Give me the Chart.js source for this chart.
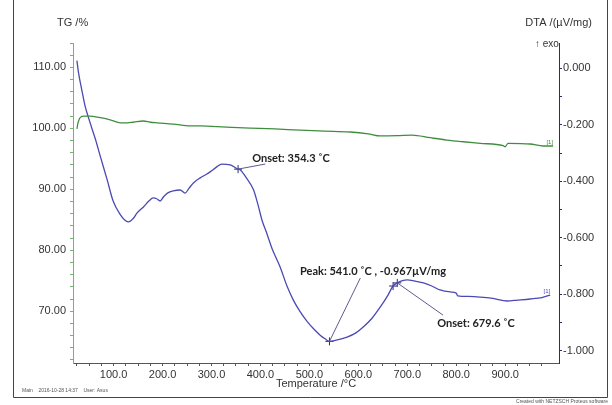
<!DOCTYPE html>
<html>
<head>
<meta charset="utf-8">
<script src="https://cdn.jsdelivr.net/npm/chart.js@4/dist/chart.umd.min.js"></script>
<style>
  html, body { margin: 0; padding: 0; background: #fff; }
  #wrap { width: 612px; height: 405px; position: relative; }
</style>
</head>
<body>
<div id="wrap"><canvas id="c" width="612" height="405"></canvas></div>
<script>
// DTA signal (µV/mg) against temperature (°C)
const dtaTemp = [25, 28.5, 35, 42, 48, 56, 63, 73, 87, 99, 114, 122, 130, 140, 148, 161, 172, 181, 188, 195,
  202, 210, 222, 236, 246, 254, 263, 277, 288, 298, 310, 321, 338, 354.3, 359, 372, 386, 396, 403, 412,
  424, 440, 454, 467, 481, 496, 510, 522, 532, 541, 555, 577, 595, 610, 628, 645, 660, 671, 679.6, 690,
  700, 716, 733, 750, 767, 788, 800, 803, 825, 849, 875, 904, 925, 951, 975, 992];
const dtaValue = [0.027, -0.018, -0.077, -0.136, -0.171, -0.215, -0.252, -0.313, -0.396, -0.470, -0.519, -0.536, -0.544, -0.532, -0.512, -0.491, -0.470, -0.459, -0.462, -0.470,
  -0.455, -0.442, -0.434, -0.431, -0.442, -0.425, -0.406, -0.388, -0.377, -0.366, -0.350, -0.339, -0.342, -0.357, -0.360, -0.390, -0.431, -0.490, -0.537, -0.580,
  -0.640, -0.703, -0.770, -0.820, -0.862, -0.898, -0.925, -0.945, -0.958, -0.967, -0.963, -0.952, -0.937, -0.916, -0.885, -0.845, -0.805, -0.771, -0.760, -0.752,
  -0.749, -0.754, -0.760, -0.771, -0.785, -0.792, -0.796, -0.806, -0.808, -0.810, -0.815, -0.824, -0.821, -0.817, -0.812, -0.803];

// TG mass (%) against temperature (°C)
const tgTemp = [25, 27, 32, 40, 52, 70, 93, 114, 128, 140, 161, 175, 189, 222, 257, 277, 330, 379, 430, 481,
  530, 583, 620, 645, 680, 710, 747, 781, 814, 849, 896, 900, 906, 951, 978, 998];
const tgValue = [99.9, 100.8, 101.8, 102.0, 102.0, 101.8, 101.4, 100.9, 100.9, 101.0, 101.2, 101.0, 100.9, 100.7, 100.4, 100.4, 100.2, 100.05, 99.9, 99.7,
  99.55, 99.4, 99.1, 98.75, 98.8, 98.9, 98.46, 98.08, 97.8, 97.54, 97.15, 96.98, 97.54, 97.43, 97.1, 97.1];

// Evaluated points on the DTA curve
const markTemp = [354.3, 541.0, 671.0, 679.6];
const markValue = [-0.357, -0.967, -0.771, -0.760];

// Labelled axis values
const tempLabels = [100, 200, 300, 400, 500, 600, 700, 800, 900];
const tgLabels = [70, 80, 90, 100, 110];
const dtaLabels = [0, -0.2, -0.4, -0.6, -0.8, -1.0];

// Result texts and the DTA points they refer to
const noteTexts = ['Onset: 354.3 \u02daC', 'Peak: 541.0 \u02daC , -0.967\u00b5V/mg', 'Onset: 679.6 \u02daC'];
const noteRefs = [0, 1, 3];

// Where each result text and its leader end sit, in axis units
const noteLayout = [
  { tx: 383, tv: -0.318, align: 'left', lt: 410, lv: -0.339 },
  { tx: 630, tv: -0.718, align: 'center', lt: 604, lv: -0.743 },
  { tx: 761, tv: -0.902, align: 'left', lt: 773, lv: -0.874 }
];

const GREEN = '#3f8e3f';
const GREEN_AXIS = '#77b277';
const BLUE = '#4a4ab4';
const NAVY = '#2b2b6e';
const TEXT = '#333333';
const SANS = '"Liberation Sans", Arial, sans-serif';

function stepTicks(from, to, step) {
  const out = [];
  const n = Math.round((to - from) / step);
  for (let i = 0; i <= n; i++) out.push({ value: Math.round((from + i * step) * 1000) / 1000 });
  return out;
}
function near(list, v) { return list.some(l => Math.abs(l - v) < 1e-6); }

const pairs = (xs, ys) => xs.map((x, i) => ({ x: x, y: ys[i] }));

const extras = {
  id: 'extras',
  afterDraw(chart) {
    const ctx = chart.ctx;
    const sx = chart.scales.x, sd = chart.scales.dta;
    ctx.save();

    // outer frame
    ctx.strokeStyle = '#444';
    ctx.lineWidth = 1;
    ctx.beginPath();
    ctx.moveTo(13.5, 0); ctx.lineTo(13.5, 397.5); ctx.lineTo(607.5, 397.5); ctx.lineTo(607.5, 0);
    ctx.stroke();

    // axis headings
    ctx.fillStyle = TEXT;
    ctx.font = '11px ' + SANS;
    ctx.textBaseline = 'middle';
    ctx.textAlign = 'left';
    ctx.fillText('TG /%', 57, 23);
    ctx.textAlign = 'right';
    ctx.fillText('DTA /(\u00b5V/mg)', 592, 23);
    ctx.font = '10px ' + SANS;
    ctx.textAlign = 'left';
    ctx.fillText('\u2191 exo', 535, 44);

    // footer lines
    ctx.fillStyle = '#555';
    ctx.font = '5px ' + SANS;
    ctx.textAlign = 'left';
    ctx.fillText('Main    2016-10-28 14:37    User: Asus', 22, 391);
    ctx.textAlign = 'right';
    ctx.fillText('Created with NETZSCH Proteus software', 608, 402);

    // curve tags
    ctx.font = '6px ' + SANS;
    ctx.textBaseline = 'bottom';
    ctx.textAlign = 'right';
    const tgEnd = chart.scales.tg.getPixelForValue(tgValue[tgValue.length - 1]);
    ctx.fillStyle = GREEN;
    ctx.fillText('[1]', sx.getPixelForValue(tgTemp[tgTemp.length - 1]), tgEnd - 0.5);
    const dtaEnd = sd.getPixelForValue(dtaValue[dtaValue.length - 1]);
    ctx.fillStyle = BLUE;
    ctx.fillText('[1]', sx.getPixelForValue(dtaTemp[dtaTemp.length - 1]), dtaEnd - 0.5);

    // result texts with leaders
    ctx.strokeStyle = '#5b5b8f';
    ctx.lineWidth = 1;
    noteTexts.forEach((txt, i) => {
      const lay = noteLayout[i];
      const k = noteRefs[i];
      ctx.beginPath();
      ctx.moveTo(sx.getPixelForValue(markTemp[k]), sd.getPixelForValue(markValue[k]));
      ctx.lineTo(sx.getPixelForValue(lay.lt), sd.getPixelForValue(lay.lv));
      ctx.stroke();
      ctx.fillStyle = '#222';
      ctx.font = 'bold 11px Lato, "Open Sans", sans-serif';
      ctx.textAlign = lay.align;
      ctx.textBaseline = 'middle';
      ctx.fillText(txt, sx.getPixelForValue(lay.tx), sd.getPixelForValue(lay.tv));
    });
    ctx.restore();
  }
};

new Chart(document.getElementById('c'), {
  type: 'scatter',
  data: {
    datasets: [
      {
        label: 'TG', data: pairs(tgTemp, tgValue), yAxisID: 'tg',
        showLine: true, borderColor: GREEN, borderWidth: 1.3, pointRadius: 0, cubicInterpolationMode: 'monotone'
      },
      {
        label: 'DTA', data: pairs(dtaTemp, dtaValue), yAxisID: 'dta',
        showLine: true, borderColor: BLUE, borderWidth: 1.3, pointRadius: 0, cubicInterpolationMode: 'monotone'
      },
      {
        label: 'points', data: pairs(markTemp, markValue), yAxisID: 'dta',
        showLine: false, pointStyle: 'cross', pointRadius: 4, borderColor: NAVY, borderWidth: 1
      }
    ]
  },
  options: {
    responsive: false,
    animation: false,
    devicePixelRatio: 1,
    layout: { padding: { top: 43, left: 0, right: 0, bottom: 0 } },
    plugins: { legend: { display: false }, tooltip: { enabled: false } },
    scales: {
      x: {
        type: 'linear', position: 'bottom', min: 17, max: 1010,
        afterBuildTicks: s => { s.ticks = stepTicks(25, 975, 25); },
        afterFit: s => { s.height = 42; },
        ticks: {
          autoSkip: false, maxRotation: 0, padding: 2, color: TEXT, font: { family: SANS, size: 11 },
          callback: v => near(tempLabels, v) ? v.toFixed(1) : ''
        },
        grid: { drawOnChartArea: false, drawTicks: true, tickLength: 3, color: '#555', tickColor: '#555' },
        border: { display: true, color: '#555', width: 1 },
        title: { display: true, text: 'Temperature /\u00b0C', color: TEXT, font: { family: SANS, size: 11 }, padding: { top: 0, bottom: 14 } }
      },
      tg: {
        type: 'linear', position: 'left', min: 61.5, max: 114,
        afterBuildTicks: s => { s.ticks = stepTicks(62, 114, 2); },
        afterFit: s => { s.width = 73; },
        ticks: {
          autoSkip: false, padding: 4, color: TEXT, font: { family: SANS, size: 11 },
          callback: v => near(tgLabels, v) ? v.toFixed(2) : ''
        },
        grid: { drawOnChartArea: false, drawTicks: true, tickLength: 3, color: GREEN_AXIS, tickColor: GREEN_AXIS },
        border: { display: true, color: GREEN_AXIS, width: 1 }
      },
      dta: {
        type: 'linear', position: 'right', min: -1.0436, max: 0.0896,
        afterBuildTicks: s => { s.ticks = stepTicks(-1.0, 0.0, 0.1); },
        afterFit: s => { s.width = 53; },
        ticks: {
          autoSkip: false, padding: 1, color: TEXT, font: { family: SANS, size: 11 },
          callback: v => near(dtaLabels, v) ? v.toFixed(3) : ''
        },
        grid: { drawOnChartArea: false, drawTicks: true, tickLength: 3, color: NAVY, tickColor: NAVY },
        border: { display: true, color: NAVY, width: 1 }
      }
    }
  },
  plugins: [extras]
});
</script>
</body>
</html>
